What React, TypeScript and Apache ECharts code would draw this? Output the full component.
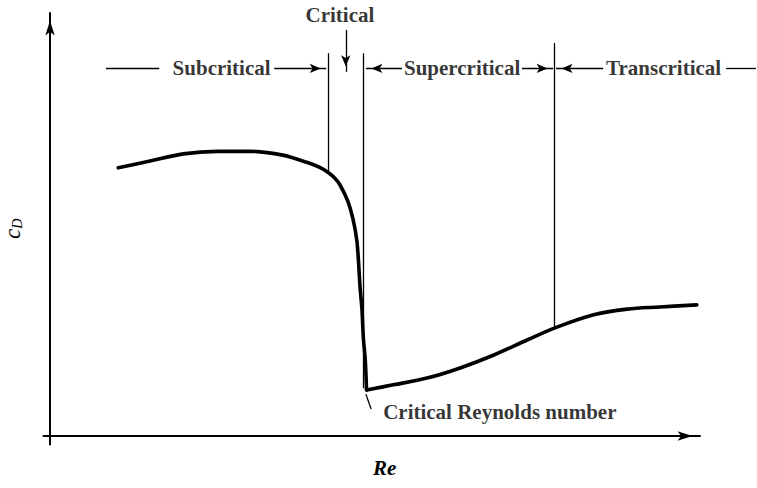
import React, { useEffect, useRef } from 'react';
import * as echarts from 'echarts';

// Schematic drag curve (arbitrary units: x = Re scale, y = c_D scale 0..100)
const subcriticalCurve: [number, number][] = [
  [10.5, 63.4], [15.4, 65.0], [20.5, 66.7], [25.7, 67.3], [30.8, 67.3],
  [35.8, 66.4], [39.5, 64.7], [41.5, 63.5], [42.8, 62.3], [43.8, 61.0],
  [44.6, 59.4], [45.8, 55.6], [46.6, 51.4], [47.2, 46.3], [47.45, 41.6],
  [47.7, 35.2], [48.0, 29.8], [48.2, 23.4], [48.5, 18.0], [48.7, 10.9],
];
const supercriticalCurve: [number, number][] = [
  [48.7, 10.9], [52.8, 12.1], [58.0, 13.7], [63.1, 16.1], [68.2, 19.1],
  [73.4, 22.7], [77.6, 25.5], [83.5, 28.6], [88.8, 30.0], [93.8, 30.5],
  [99.5, 31.0],
];

// Regime boundary lines: x, top y, bottom y
const boundaryX = [42.8, 48.15, 77.6];
const boundaryTop = [90.5, 90.5, 92.9];
const boundaryBottom = [62.3, 11.3, 25.5];

// Region labels
const regionLabels = ['Subcritical', 'Critical', 'Supercritical', 'Transcritical', 'Critical Reynolds number'];
const regionLabelX = [26.4, 44.6, 63.4, 94.4, 69.2];
const regionLabelY = [86.9, 99.6, 86.9, 86.9, 5.6];

// Arrow row: [x1, y1, x2, y2, hasArrow]
const arrowRowY = 86.9;
const arrowSegments: [number, number, number, number, boolean][] = [
  [8.6, arrowRowY, 16.8, arrowRowY, false],
  [34.5, arrowRowY, 42.5, arrowRowY, true],
  [45.5, 96.0, 45.5, 86.1, true],
  [54.15, arrowRowY, 48.6, arrowRowY, true],
  [72.6, arrowRowY, 77.4, arrowRowY, true],
  [85.1, arrowRowY, 77.85, arrowRowY, true],
  [104.0, arrowRowY, 108.6, arrowRowY, false],
  [48.6, 9.9, 49.4, 6.4, false],
];

const FONT = 'Liberation Serif';

// layout
const W = 757;
const GRID_LEFT = 43.5;
const GRID_RIGHT = 57;
const GRID_TOP = 13;
const GRID_BOTTOM = 43.5;
const X_MIN = -1;
const X_MAX = 100;

export default function App() {
  const ref = useRef<HTMLDivElement>(null);
  useEffect(() => {
    if (!ref.current) return;
    const chart = echarts.init(ref.current, undefined, { renderer: 'svg' });

    // annotation grid spans to the right edge with the same scale
    const pxPerUnit = (W - GRID_LEFT - GRID_RIGHT) / (X_MAX - X_MIN);
    const annXMax = X_MIN + (W - GRID_LEFT) / pxPerUnit;

    const markLineData: any[] = [];
    boundaryX.forEach((x, i) => {
      markLineData.push([
        { coord: [x, boundaryTop[i]], symbol: 'none' },
        { coord: [x, boundaryBottom[i]], symbol: 'none' },
      ]);
    });
    arrowSegments.forEach(([x1, y1, x2, y2, arrow]) => {
      markLineData.push([
        { coord: [x1, y1], symbol: 'none' },
        { coord: [x2, y2], symbol: arrow ? 'arrow' : 'none' },
      ]);
    });

    const curveStyle = { color: '#000', width: 3.6, cap: 'round' as const, join: 'round' as const };
    const hiddenAxis = {
      axisLine: { show: false }, axisTick: { show: false }, axisLabel: { show: false }, splitLine: { show: false },
    };

    chart.setOption({
      animation: false,
      backgroundColor: '#fff',
      grid: [
        { left: GRID_LEFT, right: GRID_RIGHT, top: GRID_TOP, bottom: GRID_BOTTOM, containLabel: false, outerBoundsMode: 'none' },
        { left: GRID_LEFT, right: 0, top: GRID_TOP, bottom: GRID_BOTTOM, containLabel: false, outerBoundsMode: 'none' },
      ],
      xAxis: [
        {
          type: 'value',
          gridIndex: 0,
          min: X_MIN,
          max: X_MAX,
          axisLine: {
            onZero: true,
            lineStyle: { color: '#000', width: 2 },
            symbol: ['none', 'arrow'],
            symbolSize: [7, 15],
            symbolOffset: [0, -7.5],
          },
          axisTick: { show: false },
          axisLabel: { show: false },
          splitLine: { show: false },
          name: 'Re',
          nameLocation: 'middle',
          nameGap: 13,
          nameTextStyle: {
            fontFamily: FONT, fontStyle: 'italic', fontWeight: 'bold', fontSize: 21, color: '#000',
            padding: [0, 0, 0, 26],
          },
        },
        { type: 'value', gridIndex: 1, min: X_MIN, max: annXMax, ...hiddenAxis },
      ],
      yAxis: [
        {
          type: 'value',
          gridIndex: 0,
          min: -2,
          max: 100,
          axisLine: {
            onZero: true,
            lineStyle: { color: '#000', width: 2 },
            symbol: ['none', 'arrow'],
            symbolSize: [7, 15],
            symbolOffset: [0, -7.5],
          },
          axisTick: { show: false },
          axisLabel: { show: false },
          splitLine: { show: false },
          name: '{c|c}{d|D}',
          nameLocation: 'middle',
          nameRotate: 90,
          nameGap: 19,
          nameTextStyle: {
            color: '#000',
            rich: {
              c: { fontFamily: FONT, fontStyle: 'italic', fontSize: 23, color: '#000' },
              d: { fontFamily: FONT, fontStyle: 'italic', fontSize: 14, color: '#000', padding: [10, 0, 0, 0] },
            },
          },
        },
        { type: 'value', gridIndex: 1, min: -2, max: 100, ...hiddenAxis },
      ],
      series: [
        {
          type: 'line',
          xAxisIndex: 0,
          yAxisIndex: 0,
          data: subcriticalCurve,
          smooth: 0.3,
          showSymbol: false,
          symbol: 'none',
          lineStyle: curveStyle,
          silent: true,
        },
        {
          type: 'line',
          xAxisIndex: 0,
          yAxisIndex: 0,
          data: supercriticalCurve,
          smooth: 0.35,
          showSymbol: false,
          symbol: 'none',
          lineStyle: curveStyle,
          silent: true,
        },
        {
          type: 'scatter',
          xAxisIndex: 1,
          yAxisIndex: 1,
          symbolSize: 0,
          silent: true,
          itemStyle: { color: 'rgba(0,0,0,0)' },
          data: regionLabels.map((t, i) => ({ value: [regionLabelX[i], regionLabelY[i]], name: t })),
          label: {
            show: true,
            position: 'inside',
            formatter: (p: any) => p.name,
            fontFamily: FONT,
            fontWeight: 'bold',
            fontSize: 21,
            color: '#000',
          },
          markLine: {
            silent: true,
            symbolSize: [7, 11],
            symbolOffset: [0, [0, 5.5]],
            lineStyle: { color: '#000', width: 1.3, type: 'solid' },
            label: { show: false },
            emphasis: { disabled: true },
            data: markLineData,
          },
        },
      ],
    });
    return () => chart.dispose();
  }, []);
  return <div ref={ref} style={{ width: 757, height: 488, position: 'absolute', left: 0, top: 0 }} />;
}
